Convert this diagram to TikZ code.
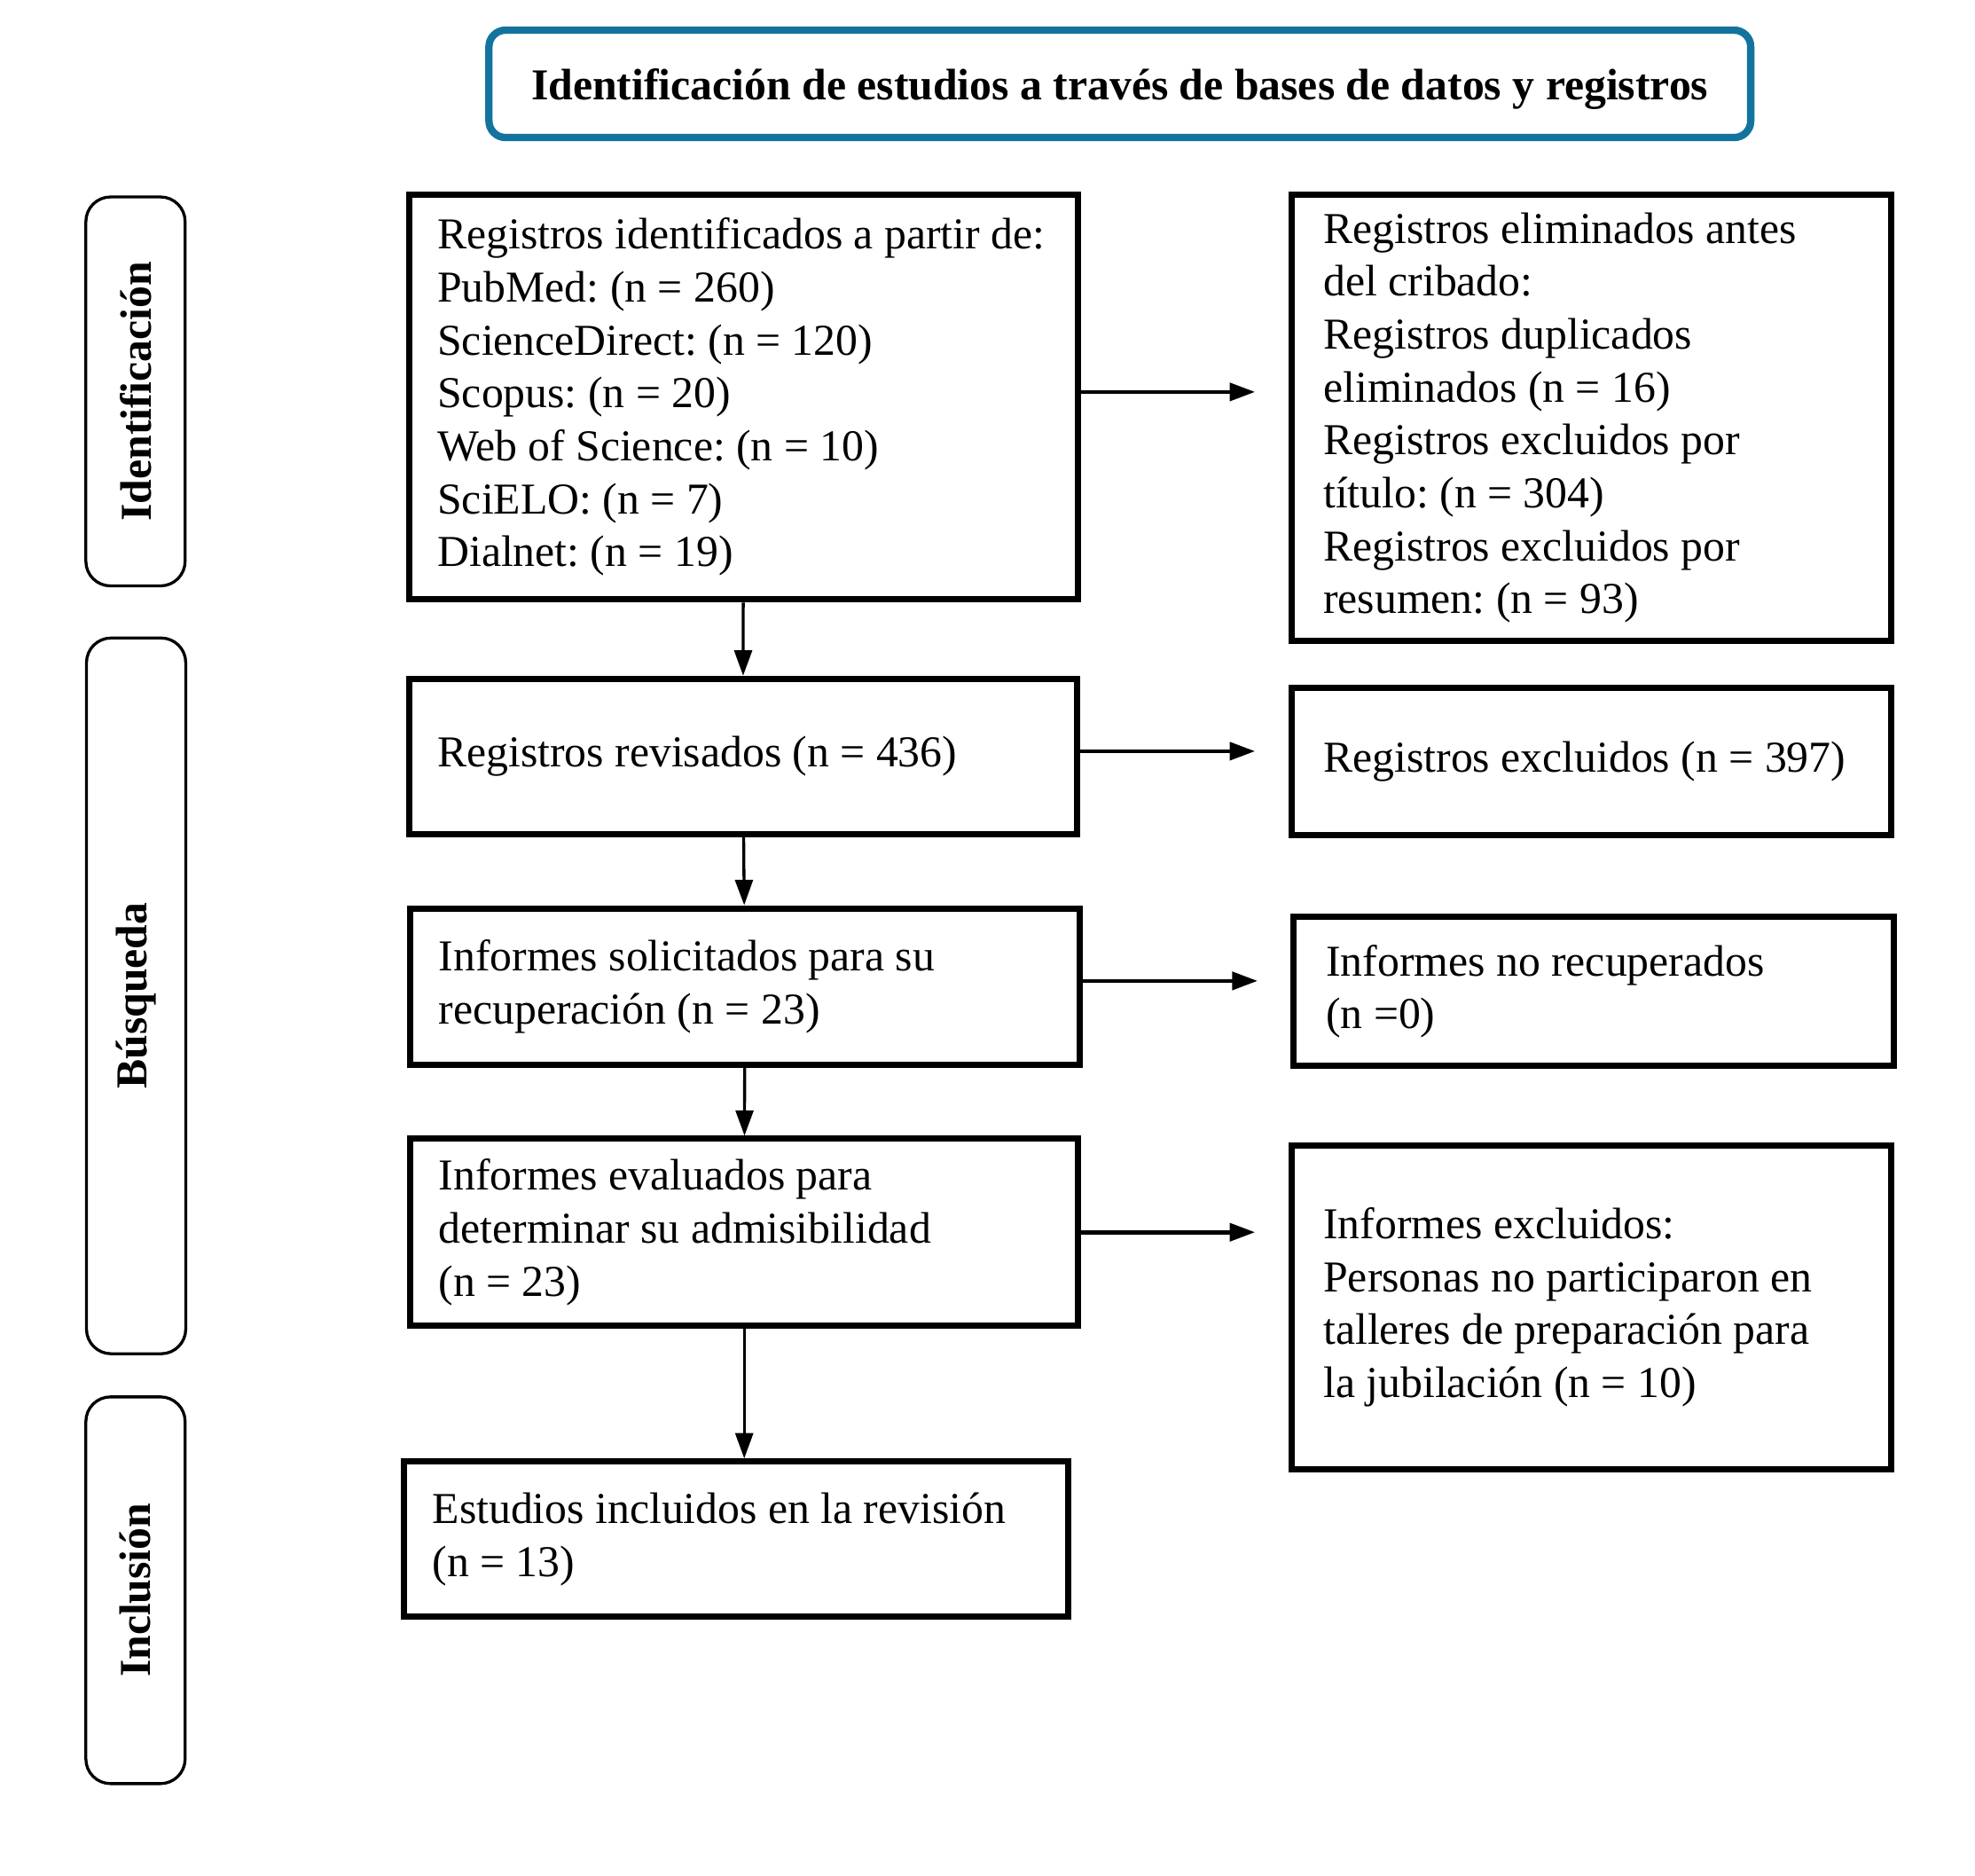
\documentclass[tikz,border=0pt]{standalone}
\usepackage{fontspec}
\setmainfont{Liberation Serif}
\usepackage{xcolor}
\usetikzlibrary{arrows.meta}
\definecolor{azultitulo}{RGB}{18,116,158}
\tikzset{
  caja/.style={draw, line width=1.7pt, align=left, inner xsep=7.75pt, inner ysep=0pt,
    execute at begin node={\spaceskip=0pt\xspaceskip=0pt\frenchspacing}},
  cajader/.style={caja, inner xsep=8.75pt, text width=145.7pt, minimum height=#1},
  lado/.style={draw, line width=0.8pt, rounded corners=6.7pt, rotate=90,
    minimum height=27pt, minimum width=#1, font=\fontsize{12}{14.4}\selectfont\bfseries},
  flecha/.style={->, line width=0.8pt},
  flechalado/.style={->, line width=1.1pt, shorten >=9pt},
}
\begin{document}
\begin{tikzpicture}[x=1.2052cm, y=-1.2052cm, font=\fontsize{12}{14.4}\selectfont,
    >={Triangle[length=6.9pt,width=4.8pt]}]
                \useasboundingbox (0,0) rectangle (15.67,14.88);

                \node[draw=azultitulo, line width=2pt, rounded corners=4.5pt, minimum width=343.3pt,
                    minimum height=29.2pt, text depth=0pt, font=\fontsize{12}{14.4}\selectfont\bfseries]
                    (titulo) at (8.885,0.665) {Identificación de estudios a través de bases de datos y registros};

                \node[lado=105.8pt] (identificacion) at (1.075,3.105) {Identificación};
                \node[lado=194.7pt] (busqueda) at (1.08,7.90) {Búsqueda};
                \node[lado=105.2pt] (inclusion) at (1.075,12.615) {Inclusión};

                \node[caja, text width=166.6pt, minimum height=110.1pt] (identificados) at (5.90,3.15)
                    {Registros identificados a partir de:\\PubMed: (n = 260)\\ScienceDirect: (n = 120)\\Scopus: (n = 20)\\Web of Science: (n = 10)\\SciELO: (n = 7)\\Dialnet: (n = 19)};
                \node[caja, text width=166.3pt, minimum height=42.2pt] (revisados) at (5.895,6.00)
                    {Registros revisados (n = 436)};
                \node[caja, text width=166.6pt, minimum height=42.5pt] (solicitados) at (5.91,7.825)
                    {Informes solicitados para su\\recuperación (n = 23)};
                \node[caja, text width=166.3pt, minimum height=50.8pt] (evaluados) at (5.905,9.775)
                    {Informes evaluados para\\determinar su admisibilidad\\(n = 23)};
                \node[caja, text width=165.2pt, minimum height=42.2pt] (incluidos) at (5.84,12.21)
                    {Estudios incluidos en la revisión\\(n = 13)};

                \node[cajader=121.4pt] (eliminados) at (12.625,3.315)
                    {Registros eliminados antes\\del cribado:\\Registros duplicados\\eliminados (n = 16)\\Registros excluidos por\\título: (n = 304)\\Registros excluidos por\\resumen: (n = 93)};
                \node[cajader=40.1pt] (excluidos) at (12.625,6.04)
                    {Registros excluidos (n = 397)};
                \node[cajader=40.5pt] (norecuperados) at (12.645,7.865)
                    {Informes no recuperados\\(n =0)};
                \node[cajader=88.1pt] (informesexcl) at (12.625,10.37)
                    {Informes excluidos:\\Personas no participaron en\\talleres de preparación para\\la jubilación (n = 10)};

                \draw [flecha] (identificados) -- (revisados);
                \draw [flecha] (revisados) -- (solicitados);
                \draw [flecha] (solicitados) -- (evaluados);
                \draw [flecha] (evaluados.south) -- (evaluados.south |- incluidos.north);

                \draw [flechalado] ([yshift=1.4pt]identificados.east) -- ([yshift=1.4pt]identificados.east -| eliminados.west);
                \draw [flechalado] ([yshift=1.4pt]revisados.east) -- ([yshift=1.4pt]revisados.east -| excluidos.west);
                \draw [flechalado] ([yshift=1.5pt]solicitados.east) -- ([yshift=1.5pt]solicitados.east -| norecuperados.west);
                \draw [flechalado] (evaluados.east) -- (evaluados.east -| informesexcl.west);
            \end{tikzpicture}
\end{document}
